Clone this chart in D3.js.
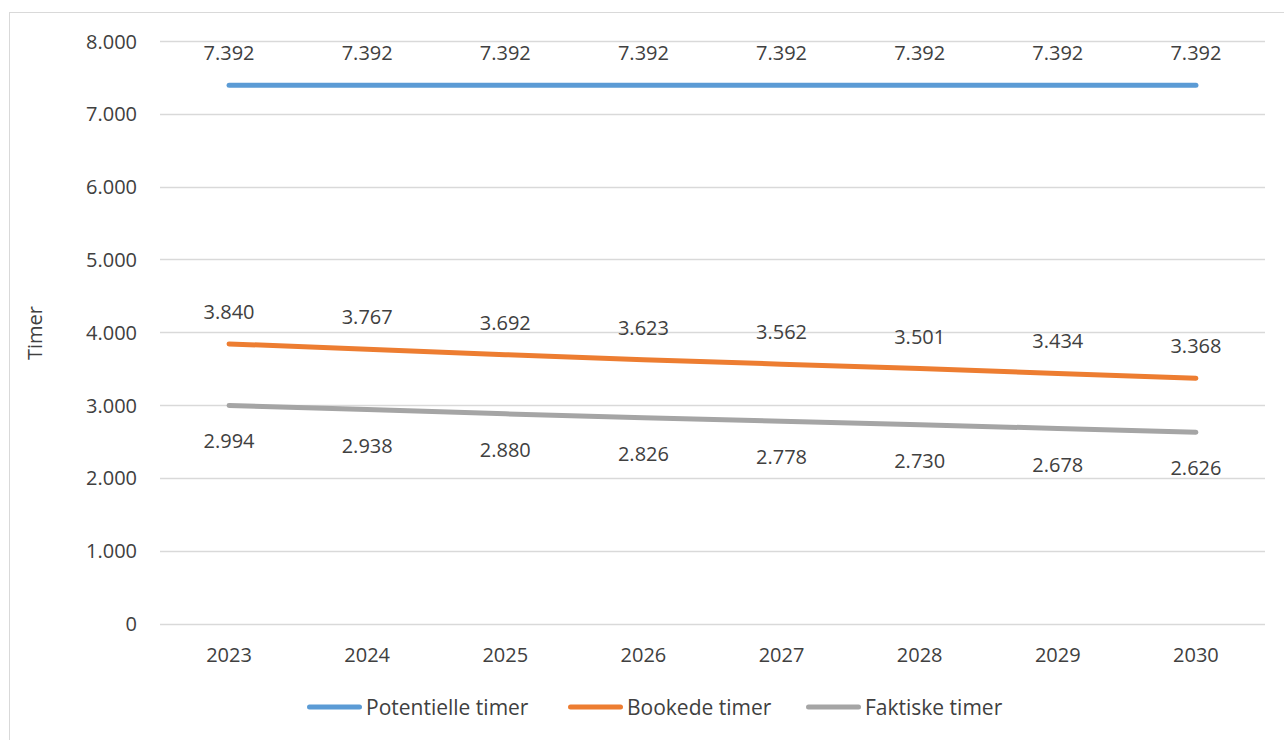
<!DOCTYPE html>
<html><head><meta charset="utf-8">
<script src="https://cdn.jsdelivr.net/npm/d3@7"></script>
<style>
body{margin:0;background:#fff;}
text{font-family:"Open Sans","Noto Sans",sans-serif;fill:#404040;}
</style></head><body>
<svg id="c" width="1284" height="740"></svg>
<script>
const years = ["2023","2024","2025","2026","2027","2028","2029","2030"];
const potentielle = [7392,7392,7392,7392,7392,7392,7392,7392];
const bookede = [3840,3767,3692,3623,3562,3501,3434,3368];
const faktiske = [2994,2938,2880,2826,2778,2730,2678,2626];
const seriesNames = ["Potentielle timer","Bookede timer","Faktiske timer"];
const seriesColors = ["#5B9BD5","#ED7D31","#A5A5A5"];
const yTicks = [0,1000,2000,3000,4000,5000,6000,7000,8000];

const svg = d3.select("#c");
const fmt = v => d3.format(",")(v).replace(/,/g,".");

svg.append("rect").attr("x",9.5).attr("y",12.5).attr("width",1290).attr("height",740)
  .attr("fill","#fff").attr("stroke","#D9D9D9").attr("stroke-width",1);

const x = d3.scaleBand().domain(years).range([160,1265]);
const y = d3.scaleLinear().domain([0,8000]).range([623.5,41]);

const grid = svg.append("g");
grid.selectAll("line").data(yTicks).join("line")
  .attr("x1",160).attr("x2",1265)
  .attr("y1",d=>Math.round(y(d))+0.5).attr("y2",d=>Math.round(y(d))+0.5)
  .attr("stroke","#D9D9D9").attr("stroke-width",1.5);

const yAxis = svg.append("g").attr("transform","translate(160,0)")
  .call(d3.axisLeft(y).tickValues(yTicks).tickFormat(fmt).tickSize(0).tickPadding(23));
yAxis.select(".domain").remove();
yAxis.selectAll("text").style("font-size","20px").attr("fill","#595959").attr("dy","0.35em");

const xAxis = svg.append("g").attr("transform","translate(0,623)")
  .call(d3.axisBottom(x).tickSize(0).tickPadding(0));
xAxis.select(".domain").remove();
xAxis.selectAll("text").style("font-size","20px").attr("fill","#595959").attr("y",32).attr("dy","0.35em");

svg.append("text").attr("transform","translate(35,333) rotate(-90)")
  .attr("text-anchor","middle").attr("dy","0.35em").style("font-size","20px").attr("fill","#595959").text("Timer");

const data = [potentielle,bookede,faktiske];
const line = d3.line().x((d,i)=>x(years[i])+x.bandwidth()/2).y(d=>y(d));
data.forEach((s,k)=>{
  svg.append("path").datum(s).attr("d",line).attr("fill","none")
    .attr("stroke",seriesColors[k]).attr("stroke-width",5).attr("stroke-linecap","round").attr("stroke-linejoin","round");
});
const offs = [-32,-32,36];
data.forEach((s,k)=>{
  svg.append("g").selectAll("text").data(s).join("text")
    .attr("x",(d,i)=>x(years[i])+x.bandwidth()/2)
    .attr("y",d=>y(d)+offs[k]).attr("dy","0.35em")
    .attr("text-anchor","middle").style("font-size","20px").attr("fill","#404040")
    .text(fmt);
});

const legendX = [307,568,806];
const lg = svg.append("g");
seriesNames.forEach((n,k)=>{
  lg.append("line").attr("x1",legendX[k]+2.5).attr("x2",legendX[k]+52.5).attr("y1",707).attr("y2",707)
    .attr("stroke",seriesColors[k]).attr("stroke-width",5).attr("stroke-linecap","round");
  lg.append("text").attr("x",legendX[k]+59).attr("y",707.5).attr("dy","0.35em")
    .style("font-size","21px").attr("fill","#595959").text(n);
});
</script></body></html>
